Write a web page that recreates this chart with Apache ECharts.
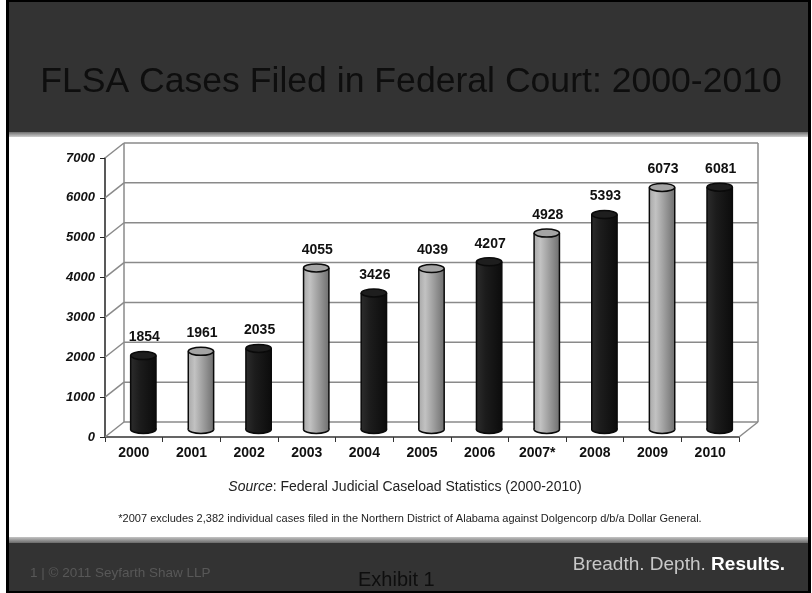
<!DOCTYPE html>
<html>
<head>
<meta charset="utf-8">
<script src="https://cdn.jsdelivr.net/npm/echarts@6/dist/echarts.min.js"></script>
<style>html,body{margin:0;padding:0;background:#fff}#c{width:812px;height:593px}</style>
</head>
<body>
<div id="c"></div>
<script>
// ---- data ----
const years = ['2000','2001','2002','2003','2004','2005','2006','2007*','2008','2009','2010'];
const cases = [1854, 1961, 2035, 4055, 3426, 4039, 4207, 4928, 5393, 6073, 6081];
const yTicks = [0, 1000, 2000, 3000, 4000, 5000, 6000, 7000];
const titleText = 'FLSA Cases Filed in Federal Court: 2000-2010';
const sourceText = '{i|Source}: Federal Judicial Caseload Statistics (2000-2010)';
const noteText = '*2007 excludes 2,382 individual cases filed in the Northern District of Alabama against Dolgencorp d/b/a Dollar General.';

const FONT = '"Liberation Sans", Arial, sans-serif';
const DX = 19, DY = -15;           // depth offset of back wall
const WALL = '#8a8a8a';

const chart = echarts.init(document.getElementById('c'), null, {renderer: 'canvas'});

function renderWall(params, api) {
  const cs = params.coordSys;
  const v = api.value(1);
  const y = api.coord([0, v])[1];
  const x0 = cs.x, x1 = cs.x + cs.width;
  const st = {stroke: WALL, lineWidth: 1.5};
  const ch = [
    {type: 'line', shape: {x1: x0, y1: y, x2: x0 + DX, y2: y + DY}, style: st},
    {type: 'line', shape: {x1: x0 + DX, y1: y + DY, x2: x1 + DX, y2: y + DY}, style: st}
  ];
  if (params.dataIndex === 0) {
    const yTop = api.coord([0, yTicks[yTicks.length - 1]])[1];
    ch.push({type: 'line', shape: {x1: x1, y1: y, x2: x1 + DX, y2: y + DY}, style: st});
    ch.push({type: 'line', shape: {x1: x0 + DX, y1: y + DY, x2: x0 + DX, y2: yTop + DY}, style: st});
    ch.push({type: 'line', shape: {x1: x1 + DX, y1: y + DY, x2: x1 + DX, y2: yTop + DY}, style: st});
  }
  return {type: 'group', children: ch};
}

function renderBar(params, api) {
  const i = api.value(0), v = api.value(1);
  const top = api.coord([i, v]);
  const bot = api.coord([i, 0]);
  const band = api.size([1, 0])[0];
  const w = band * 0.44, rx = w / 2, ry = 4;
  const cx = top[0] + DX / 2;
  const ty = top[1] + DY / 2, by = bot[1] + DY / 2;
  const dark = i % 2 === 0;
  const body = dark
    ? {type: 'linear', x: 0, y: 0, x2: 1, y2: 0, colorStops: [
        {offset: 0, color: '#2c2c2c'}, {offset: 0.35, color: '#1c1c1c'}, {offset: 1, color: '#0c0c0c'}]}
    : {type: 'linear', x: 0, y: 0, x2: 1, y2: 0, colorStops: [
        {offset: 0, color: '#a9a9a9'}, {offset: 0.25, color: '#c2c2c2'}, {offset: 0.6, color: '#9c9c9c'}, {offset: 1, color: '#707070'}]};
  const capFill = dark ? '#1e1e1e' : '#a4a4a4';
  const stroke = '#0a0a0a';
  return {
    type: 'group',
    children: [
      {type: 'ellipse', shape: {cx: cx, cy: by, rx: rx, ry: ry}, style: {fill: body, stroke: stroke, lineWidth: 1.5}},
      {type: 'rect', shape: {x: cx - rx, y: ty, width: w, height: by - ty}, style: {fill: body}},
      {type: 'line', shape: {x1: cx - rx, y1: ty, x2: cx - rx, y2: by}, style: {stroke: stroke, lineWidth: 1.5}},
      {type: 'line', shape: {x1: cx + rx, y1: ty, x2: cx + rx, y2: by}, style: {stroke: stroke, lineWidth: 1.5}},
      {type: 'ellipse', shape: {cx: cx, cy: ty, rx: rx, ry: ry}, style: {fill: capFill, stroke: stroke, lineWidth: 1.5}},
      {type: 'text', x: cx + 1, y: ty - 18, style: {text: String(v), fill: '#111', fontSize: 14, fontWeight: 'bold', fontFamily: FONT, align: 'center', verticalAlign: 'middle'}}
    ]
  };
}

const option = {
  animation: false,
  backgroundColor: '#ffffff',
  graphic: [
    {type: 'rect', z: -20, shape: {x: 6, y: 0, width: 805, height: 593}, style: {fill: '#000'}},
    {type: 'rect', z: -19, shape: {x: 9, y: 2, width: 799, height: 130}, style: {fill: '#333333'}},
    {type: 'rect', z: -19, shape: {x: 9, y: 132, width: 799, height: 5},
      style: {fill: {type: 'linear', x: 0, y: 0, x2: 0, y2: 1, colorStops: [{offset: 0, color: '#6e6e6e'}, {offset: 1, color: '#cfcfcf'}]}}},
    {type: 'rect', z: -19, shape: {x: 9, y: 137, width: 799, height: 400}, style: {fill: '#ffffff'}},
    {type: 'rect', z: -19, shape: {x: 9, y: 537, width: 799, height: 6},
      style: {fill: {type: 'linear', x: 0, y: 0, x2: 0, y2: 1, colorStops: [{offset: 0, color: '#c4c4c4'}, {offset: 1, color: '#6a6a6a'}]}}},
    {type: 'rect', z: -19, shape: {x: 9, y: 543, width: 799, height: 48}, style: {fill: '#333333'}},
    {type: 'text', z: 50, x: 411, y: 82, style: {text: titleText, fill: '#0e0e0e', fontSize: 35.6, fontFamily: FONT, align: 'center', verticalAlign: 'middle'}},
    {type: 'text', z: 50, x: 405, y: 487, style: {text: sourceText, fill: '#222', fontSize: 14, fontFamily: FONT, align: 'center', verticalAlign: 'middle',
      rich: {i: {fontStyle: 'italic', fontSize: 14, fontFamily: FONT, fill: '#222'}}}},
    {type: 'text', z: 50, x: 410, y: 519, style: {text: noteText, fill: '#222', fontSize: 11, fontFamily: FONT, align: 'center', verticalAlign: 'middle'}},
    {type: 'text', z: 50, x: 30, y: 573, style: {text: '1 | \u00a9 2011 Seyfarth Shaw LLP', fill: '#585858', fontSize: 13.5, fontFamily: FONT, align: 'left', verticalAlign: 'middle'}},
    {type: 'text', z: 50, x: 358, y: 580, style: {text: 'Exhibit 1', fill: '#0e0e0e', fontSize: 20, fontFamily: FONT, align: 'left', verticalAlign: 'middle'}},
    {type: 'text', z: 50, x: 785, y: 565, style: {text: 'Breadth. Depth. {b|Results.}', fill: '#c8c8c8', fontSize: 19, fontFamily: FONT, align: 'right', verticalAlign: 'middle',
      rich: {b: {fontWeight: 'bold', fill: '#ffffff', fontSize: 19, fontFamily: FONT}}}}
  ],
  grid: {left: 105, top: 158, width: 634, height: 279},
  xAxis: {
    type: 'category', data: years,
    axisLine: {show: true, lineStyle: {color: '#333', width: 1.5}},
    axisTick: {show: true, length: 5, lineStyle: {color: '#333'}},
    axisLabel: {margin: 9, color: '#111', fontSize: 14, fontWeight: 'bold', fontFamily: FONT}
  },
  yAxis: {
    type: 'value', min: 0, max: 7000, interval: 1000,
    axisLine: {show: true, lineStyle: {color: '#222', width: 1.5}},
    axisTick: {show: true, length: 5, lineStyle: {color: '#222'}},
    splitLine: {show: false},
    axisLabel: {margin: 10, color: '#111', fontSize: 13, fontWeight: 'bold', fontStyle: 'italic', fontFamily: FONT,
      formatter: function (v) { return String(v); }}
  },
  series: [
    {type: 'custom', name: 'wall', z: 1, renderItem: renderWall, data: yTicks.map(function (v) { return [0, v]; }), silent: true},
    {type: 'custom', name: 'cases', z: 3, renderItem: renderBar, data: cases.map(function (v, i) { return [i, v]; })}
  ]
};
chart.setOption(option);
</script>
</body>
</html>
